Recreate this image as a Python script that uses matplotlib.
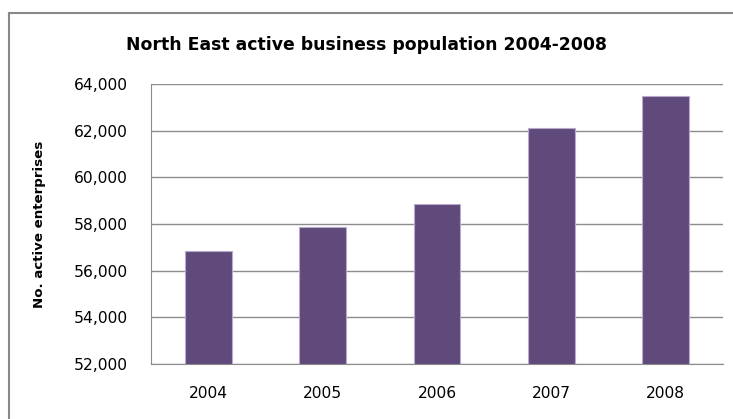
import matplotlib.pyplot as plt
from matplotlib.lines import Line2D
from matplotlib.ticker import FuncFormatter

# active enterprises in the North East, by year
years = ["2004", "2005", "2006", "2007", "2008"]
enterprises = [56840, 57880, 58850, 62120, 63480]

plt.rcParams['font.family'] = ['DejaVu Sans']

W, H = 733, 419
fig = plt.figure(figsize=(W / 100, H / 100), dpi=100)

# plot area in pixels: left 151, right 723, top 84, bottom 364
ax = fig.add_axes([151 / W, 1 - 364 / H, (723 - 151) / W, (364 - 84) / H])

x = range(len(years))
ax.bar(x, enterprises, width=0.41, color="#604A7B", edgecolor="#B9AACD",
       linewidth=0.8, zorder=3)

ax.set_xlim(-0.5, len(years) - 0.5)
ax.set_ylim(52000, 64000)
ax.set_yticks(range(52000, 64001, 2000))
ax.yaxis.set_major_formatter(FuncFormatter(lambda v, p: f"{int(v):,}"))
ax.set_xticks(list(x))
ax.set_xticklabels(years)

ax.grid(axis="y", color="#8C8C8C", linewidth=1.0, zorder=0)
for s in ["top", "right"]:
    ax.spines[s].set_visible(False)
ax.spines["left"].set_color("#8C8C8C")
ax.spines["bottom"].set_color("#8C8C8C")
ax.tick_params(length=0, labelsize=11.2, colors="black")
ax.tick_params(axis="y", pad=16.5)
ax.tick_params(axis="x", pad=16)

ax.set_ylabel("No. active enterprises", fontsize=9.6, fontweight="bold")
ax.yaxis.set_label_coords(-(151 - 46) / (723 - 151), 0.5)

fig.text(366 / W, 1 - 45 / H, "North East active business population 2004-2008",
         ha="center", va="center", fontsize=12.4, fontweight="bold")

# chart frame (left and top edges)
fig.add_artist(Line2D([8.5 / W, 8.5 / W], [0, 1 - 13.5 / H], color="#888888",
                      linewidth=1.5, transform=fig.transFigure))
fig.add_artist(Line2D([8.5 / W, 1], [1 - 13.5 / H, 1 - 13.5 / H], color="#888888",
                      linewidth=1.5, transform=fig.transFigure))

fig.savefig("out.png", dpi=100)
